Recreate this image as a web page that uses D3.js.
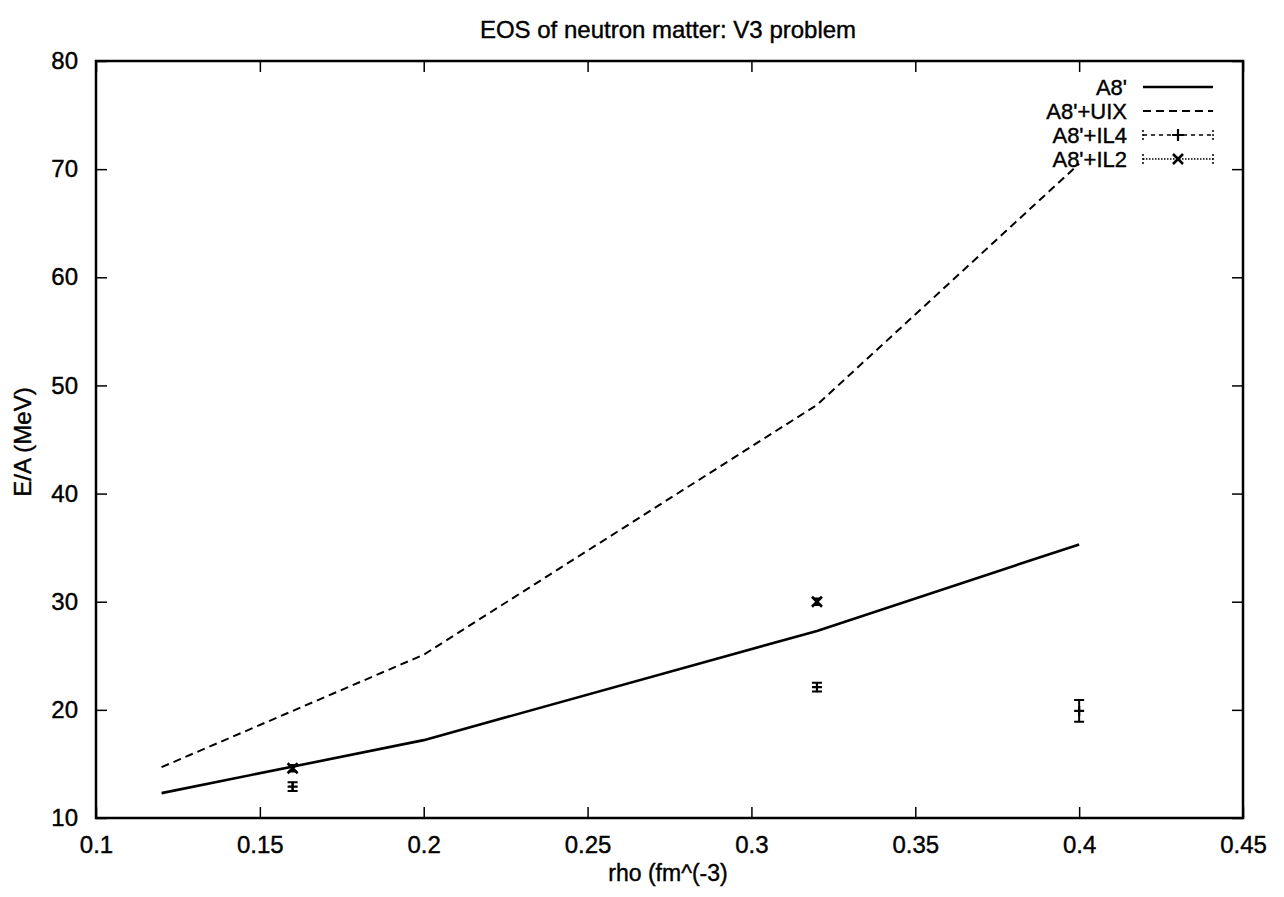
<!DOCTYPE html>
<html>
<head>
<meta charset="utf-8">
<script src="https://cdn.jsdelivr.net/npm/d3@7"></script>
<style>
  body { margin: 0; background: #fff; }
  text { font-family: "Liberation Sans", Arial, sans-serif; fill: #000; stroke: #000; stroke-width: 0.4px; }
</style>
</head>
<body>
<svg id="chart" width="1284" height="897"></svg>
<script>
// ticks
const xTicks = [0.1, 0.15, 0.2, 0.25, 0.3, 0.35, 0.4, 0.45];
const yTicks = [10, 20, 30, 40, 50, 60, 70, 80];

// A8' and A8'+UIX curves
const rho = [0.12, 0.2, 0.32, 0.4];
const eA8 = [12.3, 17.2, 27.3, 35.3];
const eUIX = [14.7, 25.1, 48.2, 70.5];

// A8'+IL4 points with error bars
const il4Rho = [0.16, 0.32, 0.4];
const il4E = [12.9, 22.1, 19.9];
const il4Err = [0.4, 0.4, 1.0];

// A8'+IL2 points
const il2Rho = [0.16, 0.32];
const il2E = [14.6, 30.0];
const il2Err = [0.3, 0.3];

const legendNames = ["A8'", "A8'+UIX", "A8'+IL4", "A8'+IL2"];

const svg = d3.select("#chart");
const mLeft = 96, mRight = 1243, mTop = 61, mBottom = 818;

const x = d3.scaleLinear().domain([0.1, 0.45]).range([mLeft, mRight]);
const y = d3.scaleLinear().domain([10, 80]).range([mBottom, mTop]);

const fmt = (d) => String(+d.toFixed(2));
const T = 11;

// axes, ticks inward and mirrored
svg.append("g").attr("transform", `translate(0,${mBottom})`)
  .call(d3.axisBottom(x).tickValues(xTicks).tickSize(-T).tickPadding(18).tickFormat(fmt));
svg.append("g").attr("transform", `translate(0,${mTop})`)
  .call(d3.axisTop(x).tickValues(xTicks).tickSize(-T).tickFormat(""));
svg.append("g").attr("transform", `translate(${mLeft},0)`)
  .call(d3.axisLeft(y).tickValues(yTicks).tickSize(-T).tickPadding(18).tickFormat(fmt));
svg.append("g").attr("transform", `translate(${mRight},0)`)
  .call(d3.axisRight(y).tickValues(yTicks).tickSize(-T).tickFormat(""));

svg.selectAll(".domain").remove();
svg.selectAll(".tick line").attr("stroke", "#000").attr("stroke-width", 1.5);
svg.selectAll(".tick text").attr("font-size", 24).attr("fill", "#000");

svg.append("rect")
  .attr("x", mLeft).attr("y", mTop)
  .attr("width", mRight - mLeft).attr("height", mBottom - mTop)
  .attr("fill", "none").attr("stroke", "#000").attr("stroke-width", 2.5);

// titles
svg.append("text").attr("x", 668).attr("y", 38).attr("text-anchor", "middle")
  .attr("font-size", 24).text("EOS of neutron matter: V3 problem");
svg.append("text").attr("x", 668).attr("y", 881).attr("text-anchor", "middle")
  .attr("font-size", 23).text("rho (fm^(-3)");
svg.append("text").attr("transform", "translate(31,442) rotate(-90)")
  .attr("text-anchor", "middle").attr("font-size", 24).text("E/A (MeV)");

// curves
const line = d3.line().x((d) => x(d[0])).y((d) => y(d[1]));
svg.append("path").datum(d3.zip(rho, eA8)).attr("d", line)
  .attr("fill", "none").attr("stroke", "#000").attr("stroke-width", 2.6);
svg.append("path").datum(d3.zip(rho, eUIX)).attr("d", line)
  .attr("fill", "none").attr("stroke", "#000").attr("stroke-width", 2)
  .attr("stroke-dasharray", "8,5");

function plus(g, cx, cy, s) {
  g.append("path").attr("d", `M${cx - s},${cy}H${cx + s}M${cx},${cy - s}V${cy + s}`)
    .attr("stroke", "#000").attr("stroke-width", 2.2).attr("fill", "none");
}
function cross(g, cx, cy, s) {
  g.append("path").attr("d", `M${cx - s},${cy - s}L${cx + s},${cy + s}M${cx - s},${cy + s}L${cx + s},${cy - s}`)
    .attr("stroke", "#000").attr("stroke-width", 2.6).attr("fill", "none");
}
function errbar(g, cx, y0, y1, w) {
  g.append("path")
    .attr("d", `M${cx},${y0}V${y1}M${cx - w},${y0}H${cx + w}M${cx - w},${y1}H${cx + w}`)
    .attr("stroke", "#000").attr("stroke-width", 2).attr("fill", "none");
}

const pts = svg.append("g");
il4Rho.forEach((r, i) => {
  errbar(pts, x(r), y(il4E[i] - il4Err[i]), y(il4E[i] + il4Err[i]), 5);
  plus(pts, x(r), y(il4E[i]), 5);
});
il2Rho.forEach((r, i) => {
  errbar(pts, x(r), y(il2E[i] - il2Err[i]), y(il2E[i] + il2Err[i]), 4);
  cross(pts, x(r), y(il2E[i]), 5);
});

// legend
const lg = svg.append("g");
const lx0 = 1143, lx1 = 1213, ltx = 1127;
legendNames.forEach((name, i) => {
  const ly = 87 + i * 24;
  lg.append("text").attr("x", ltx).attr("y", ly + 8).attr("text-anchor", "end")
    .attr("font-size", 22).text(name);
  const s = lg.append("line").attr("x1", lx0).attr("x2", lx1).attr("y1", ly).attr("y2", ly)
    .attr("stroke", "#000");
  if (i === 0) s.attr("stroke-width", 2.6);
  if (i === 1) s.attr("stroke-width", 2).attr("stroke-dasharray", "8,5");
  if (i === 2) {
    s.attr("stroke-width", 1.5).attr("stroke-dasharray", "4,4");
    plus(lg, (lx0 + lx1) / 2, ly, 6);
  }
  if (i === 3) {
    s.attr("stroke-width", 1.5).attr("stroke-dasharray", "1.5,1.5");
    cross(lg, (lx0 + lx1) / 2, ly, 5);
  }
  if (i >= 2) {
    [lx0, lx1].forEach((ex) => {
      lg.append("line").attr("x1", ex).attr("x2", ex).attr("y1", ly - 5).attr("y2", ly + 5)
        .attr("stroke", "#000").attr("stroke-width", 1.5).attr("stroke-dasharray", "2,2");
    });
  }
});
</script>
</body>
</html>
